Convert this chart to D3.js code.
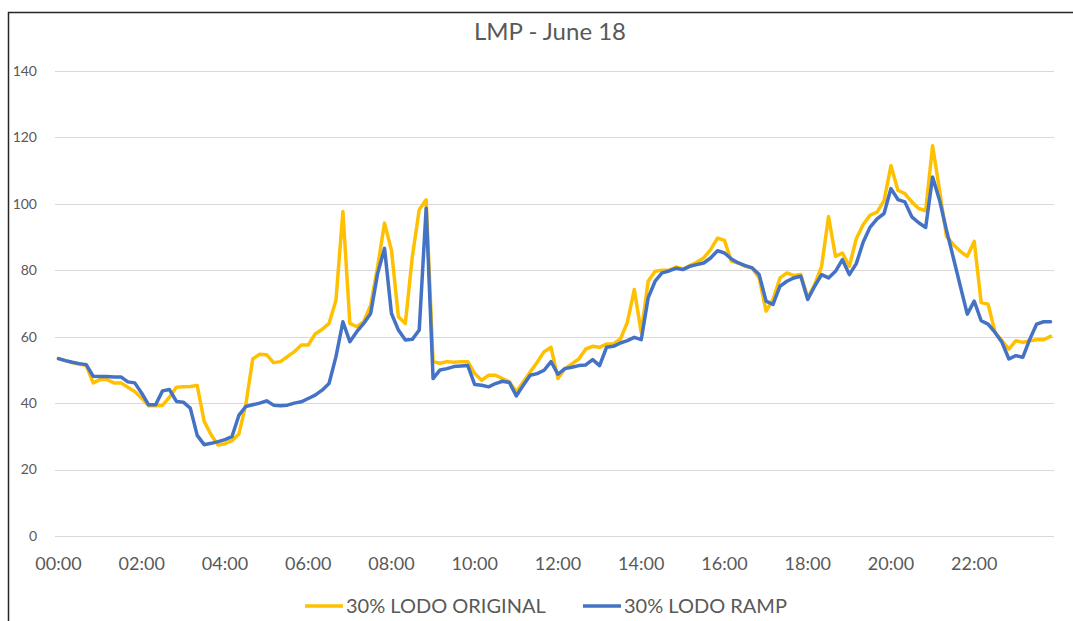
<!DOCTYPE html>
<html>
<head>
<meta charset="utf-8">
<script src="https://cdn.jsdelivr.net/npm/d3@7"></script>
<style>
  body { margin: 0; background: #fff; }
  text { font-family: Lato, "Open Sans", sans-serif; fill: #595959; }
</style>
</head>
<body>
<div id="chart"></div>
<script>
const svgWidth = 1073;
const svgHeight = 621;

// 10-minute intervals, 00:00 .. 23:50
const times = d3.range(144).map(i => d3.format("02")(Math.floor(i / 6)) + ":" + d3.format("02")((i % 6) * 10));
const tickLabels = ["00:00", "02:00", "04:00", "06:00", "08:00", "10:00", "12:00", "14:00", "16:00", "18:00", "20:00", "22:00"];
const yTicks = [0, 20, 40, 60, 80, 100, 120, 140];

const original = [
  53.4, 52.8, 52.2, 51.7, 51.4, 46.1, 47.1, 47.1, 46.1, 46.1, 44.8, 43.5,
  41.5, 39.2, 39.2, 39.3, 41.8, 44.8, 44.9, 45.0, 45.3, 34.5, 30.5, 27.4,
  27.8, 28.7, 30.7, 39.5, 53.3, 54.7, 54.6, 52.2, 52.5, 54.0, 55.5, 57.5,
  57.5, 60.8, 62.2, 64.0, 71.0, 97.7, 64.0, 63.0, 64.5, 69.5, 81.0, 94.2,
  86.0, 66.0, 64.0, 84.0, 98.2, 101.2, 52.5, 52.0, 52.5, 52.3, 52.5, 52.5,
  48.9, 46.9, 48.4, 48.4, 47.4, 46.4, 43.4, 46.4, 49.4, 52.3, 55.5, 56.8,
  47.4, 50.4, 51.8, 53.3, 56.3, 57.1, 56.8, 57.8, 57.8, 59.3, 64.3, 74.2,
  61.3, 76.7, 79.7, 80.0, 80.0, 81.0, 80.4, 81.4, 82.4, 83.7, 86.2, 89.7,
  89.0, 82.7, 82.2, 81.2, 80.7, 77.7, 67.7, 71.2, 77.7, 79.2, 78.4, 78.7,
  71.7, 75.7, 81.2, 96.2, 84.2, 85.2, 81.2, 89.5, 93.8, 96.6, 97.5, 101.0,
  111.5, 104.1, 103.1, 100.6, 98.6, 97.9, 117.5, 104.1, 90.2, 87.7, 85.7, 84.2,
  88.7, 70.3, 69.8, 61.3, 58.8, 56.3, 58.8, 58.3, 58.8, 59.1, 59.1, 60.1
];

const ramp = [
  53.4, 52.8, 52.3, 51.9, 51.6, 48.1, 48.0, 48.0, 47.9, 47.9, 46.4, 46.1,
  43.0, 39.5, 39.5, 43.7, 44.1, 40.5, 40.3, 38.5, 30.3, 27.5, 27.9, 28.4,
  29.0, 29.9, 36.3, 39.0, 39.5, 40.0, 40.7, 39.4, 39.2, 39.4, 40.0, 40.4,
  41.4, 42.4, 43.9, 45.9, 54.0, 64.5, 58.5, 61.5, 64.0, 67.0, 79.0, 86.6,
  67.0, 62.0, 59.0, 59.2, 62.0, 98.7, 47.4, 50.0, 50.4, 51.0, 51.2, 51.3,
  45.6, 45.4, 44.9, 45.9, 46.6, 46.2, 42.2, 45.4, 48.4, 48.9, 49.9, 52.5,
  48.7, 50.4, 50.8, 51.3, 51.5, 53.1, 51.3, 56.8, 57.1, 58.1, 58.8, 59.8,
  59.1, 71.7, 76.7, 79.2, 79.8, 80.6, 80.2, 81.2, 81.7, 82.2, 83.7, 85.9,
  85.2, 83.4, 82.2, 81.4, 80.7, 78.7, 70.7, 69.7, 75.2, 76.7, 77.7, 78.2,
  71.2, 75.2, 78.7, 77.7, 79.7, 83.2, 78.7, 82.0, 88.5, 93.0, 95.5, 97.1,
  104.6, 101.3, 100.6, 96.1, 94.3, 92.9, 108.1, 101.1, 92.1, 83.7, 75.2, 66.8,
  70.7, 64.8, 63.8, 61.3, 58.3, 53.3, 54.3, 53.8, 59.2, 63.8, 64.5, 64.5
];

const seriesNames = ["30% LODO ORIGINAL", "30% LODO RAMP"];
const colors = ["#FFC000", "#4472C4"];

const svg = d3.select("#chart")
  .append("svg")
  .attr("width", svgWidth)
  .attr("height", svgHeight);

// chart frame (cut off at the right and bottom like the screenshot)
svg.append("rect")
  .attr("x", 8.5)
  .attr("y", 12.5)
  .attr("width", 1100)
  .attr("height", 700)
  .attr("fill", "#fff")
  .attr("stroke", "#262626")
  .attr("stroke-width", 1.5);

const xScale = d3.scaleBand()
  .domain(times)
  .range([55, 1054]);

const yScale = d3.scaleLinear()
  .domain([0, 140])
  .range([536, 71]);

const xPos = t => xScale(t) + xScale.bandwidth() / 2;

// gridlines
svg.append("g")
  .selectAll("line")
  .data(yTicks)
  .enter()
  .append("line")
  .attr("x1", 55)
  .attr("x2", 1054)
  .attr("y1", d => Math.round(yScale(d)) + 0.5)
  .attr("y2", d => Math.round(yScale(d)) + 0.5)
  .attr("stroke", "#d9d9d9")
  .attr("stroke-width", 1);

// y labels
svg.append("g")
  .selectAll("text")
  .data(yTicks)
  .enter()
  .append("text")
  .attr("x", 37)
  .attr("y", d => yScale(d))
  .attr("dy", "0.35em")
  .attr("text-anchor", "end")
  .style("font-size", "14px")
  .text(d => d);

// x labels
svg.append("g")
  .selectAll("text")
  .data(tickLabels)
  .enter()
  .append("text")
  .attr("x", d => xPos(d))
  .attr("y", 570)
  .attr("text-anchor", "middle")
  .style("font-size", "18px")
  .text(d => d);

const line = d3.line()
  .x((d, i) => xPos(times[i]))
  .y(d => yScale(d));

[original, ramp].forEach((values, k) => {
  svg.append("path")
    .datum(values)
    .attr("d", line)
    .attr("fill", "none")
    .attr("stroke", colors[k])
    .attr("stroke-width", 3.5)
    .attr("stroke-linejoin", "round")
    .attr("stroke-linecap", "round");
});

// title
svg.append("text")
  .attr("x", 550)
  .attr("y", 40)
  .attr("text-anchor", "middle")
  .style("font-size", "24px")
  .text("LMP - June 18");

// legend
const legendX = [305, 583];
seriesNames.forEach((name, k) => {
  svg.append("line")
    .attr("x1", legendX[k])
    .attr("x2", legendX[k] + 38)
    .attr("y1", 606)
    .attr("y2", 606)
    .attr("stroke", colors[k])
    .attr("stroke-width", 3.5);
  svg.append("text")
    .attr("x", legendX[k] + 41)
    .attr("y", 613)
    .style("font-size", "20px")
    .text(name);
});
</script>
</body>
</html>
